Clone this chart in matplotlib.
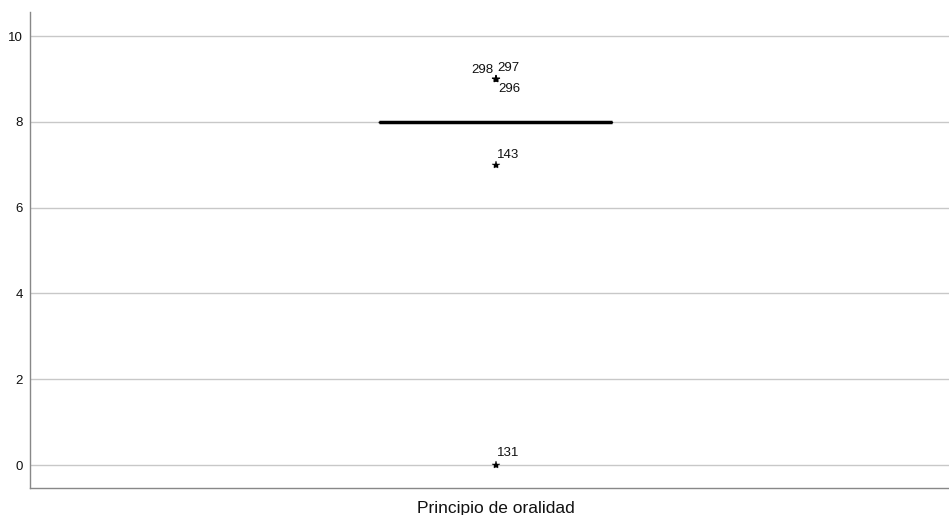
import matplotlib
matplotlib.use("Agg")
from matplotlib import pyplot as plt

plt.rcParams['font.family'] = ['Liberation Sans', 'DejaVu Sans']

variable = 'Principio de oralidad'
q1, median, q3 = 8, 8, 8
whislo, whishi = 8, 8
outlier_values = [9, 9, 9, 7, 0]
outlier_cases = ['298', '297', '296', '143', '131']
# label offsets in pixels relative to each star
label_offsets = [(-14, 9), (12, 11), (13, -10), (12, 10), (12, 12)]

fig = plt.figure(figsize=(9.49, 5.15), dpi=100)
ax = fig.add_axes([30 / 949, 27 / 515, 919 / 949, 476 / 515])

stats = [{'med': median, 'q1': q1, 'q3': q3, 'whislo': whislo, 'whishi': whishi,
          'fliers': outlier_values, 'label': variable}]
ax.bxp(stats, positions=[0], widths=0.2535, showcaps=False,
       boxprops=dict(color='black', linewidth=1),
       medianprops=dict(color='black', linewidth=2.5),
       whiskerprops=dict(color='black', linewidth=1),
       flierprops=dict(marker='*', markersize=6, markerfacecolor='black',
                       markeredgecolor='black', markeredgewidth=0.3,
                       linestyle='none'))

for val, case, off in zip(outlier_values, outlier_cases, label_offsets):
    ax.annotate(case, (0, val), xytext=off, textcoords='offset pixels',
                ha='center', va='center', fontsize=9.5, color='#111111')

ax.set_xlim(-0.507, 0.493)
ax.set_ylim(-0.536, 10.56)
ax.set_yticks([0, 2, 4, 6, 8, 10])
ax.set_xticks([0])
ax.set_xticklabels([variable])
ax.tick_params(axis='both', length=0, colors='#111111')
ax.tick_params(axis='y', labelsize=9.5, pad=5)
ax.tick_params(axis='x', pad=9, labelsize=12.5)
ax.yaxis.grid(True, color='#c8c8c8', linewidth=1)
ax.set_axisbelow(True)
for s in ['top', 'right']:
    ax.spines[s].set_visible(False)
for s in ['left', 'bottom']:
    ax.spines[s].set_color('#888888')
    ax.spines[s].set_linewidth(1)

fig.savefig('out.png', dpi=100)
